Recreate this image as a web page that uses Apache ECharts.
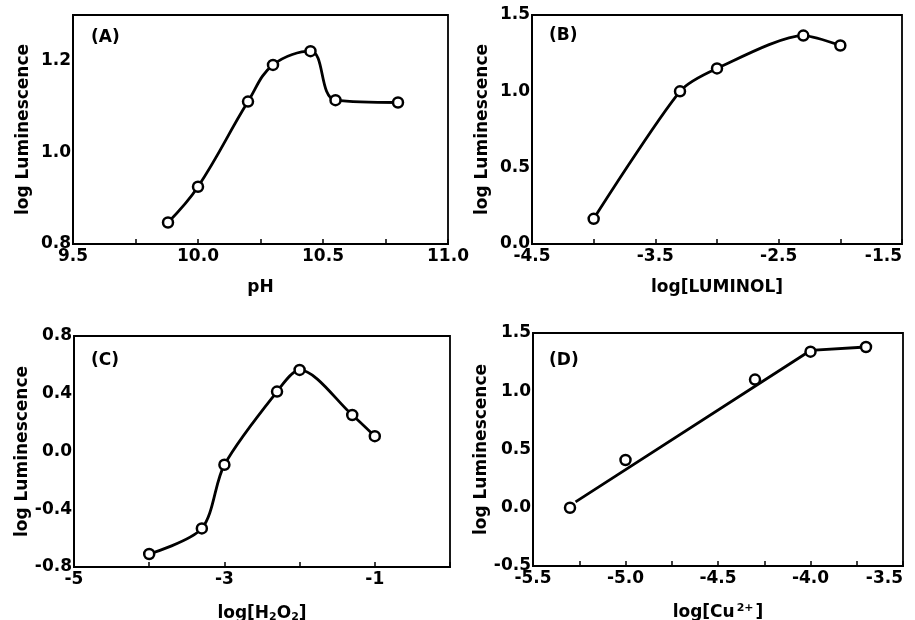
<!DOCTYPE html>
<html>
<head>
<meta charset="utf-8">
<script src="https://cdn.jsdelivr.net/npm/echarts@6/dist/echarts.min.js"></script>
<style>
html,body{margin:0;padding:0;background:#fff;}
#chart{width:915px;height:620px;}
</style>
</head>
<body>
<div id="chart"></div>
<script>
// ---- Data ----
const phX = [9.88, 10.0, 10.2, 10.3, 10.45, 10.55, 10.8];
const phY = [0.847, 0.925, 1.111, 1.191, 1.221, 1.114, 1.109];

const lumX = [-4.0, -3.3, -3.0, -2.3, -2.0];
const lumY = [0.165, 1.0, 1.15, 1.365, 1.30];

const h2o2X = [-4.0, -3.3, -3.0, -2.3, -2.0, -1.3, -1.0];
const h2o2Y = [-0.71, -0.533, -0.092, 0.415, 0.565, 0.253, 0.106];

const cuX = [-5.3, -5.0, -4.3, -4.0, -3.7];
const cuY = [0.0, 0.41, 1.10, 1.34, 1.38];
// drawn (fitted) line in panel D
const cuLineX = [-5.27, -4.0, -3.7];
const cuLineY = [0.05, 1.35, 1.38];

// tick labels
const ticksAx = [9.5, 10.0, 10.5, 11.0];
const ticksAy = [0.8, 1.0, 1.2];
const ticksBx = [-4.5, -3.5, -2.5, -1.5];
const ticksBy = [0.0, 0.5, 1.0, 1.5];
const ticksCx = [-5, -3, -1];
const ticksCy = [-0.8, -0.4, 0.0, 0.4, 0.8];
const ticksDx = [-5.5, -5.0, -4.5, -4.0, -3.5];
const ticksDy = [-0.5, 0.0, 0.5, 1.0, 1.5];

const panelLabels = ['(A)', '(B)', '(C)', '(D)'];
const yName = 'log Luminescence';
const xNames = ['pH', 'log[LUMINOL]', 'log[H{sub|2}O{sub|2}]', 'log[Cu{sup|2+}]'];

// ---- helpers ----
const pairs = (xs, ys) => xs.map((x, i) => [x, ys[i]]);
const FONT = 'DejaVu Sans';
const black = '#000';

function xAxis(idx, min, max, interval, labels, dec, nameGap, alignMax) {
  return {
    type: 'value', gridIndex: idx, min: min, max: max, interval: interval,
    name: xNames[idx], nameLocation: 'middle', nameGap: nameGap,
    nameTextStyle: {
      fontFamily: FONT, fontWeight: 'bold', fontSize: 17, color: black,
      rich: {
        sub: {fontFamily: FONT, fontWeight: 'bold', fontSize: 11, color: black, verticalAlign: 'bottom', padding: [8, 0, 0, 0]},
        sup: {fontFamily: FONT, fontWeight: 'bold', fontSize: 11, color: black, verticalAlign: 'top', padding: [0, 2, 8, 2]}
      }
    },
    axisLine: {show: true, onZero: false, lineStyle: {color: black, width: 2}},
    axisTick: {show: true, inside: true, length: 5, lineStyle: {color: black, width: 1.5}},
    splitLine: {show: false},
    axisLabel: {
      customValues: labels, margin: 4, hideOverlap: false,
      alignMaxLabel: alignMax || null,
      fontFamily: FONT, fontWeight: 'bold', fontSize: 17, color: black,
      formatter: v => Number(v).toFixed(dec)
    }
  };
}
function yAxis(idx, min, max, interval, labels) {
  return {
    type: 'value', gridIndex: idx, min: min, max: max, interval: interval,
    name: yName, nameLocation: 'middle', nameGap: 41,
    nameTextStyle: {fontFamily: FONT, fontWeight: 'bold', fontSize: 17, color: black},
    axisLine: {show: true, onZero: false, lineStyle: {color: black, width: 2}},
    axisTick: {show: false},
    splitLine: {show: false},
    axisLabel: {
      customValues: labels, margin: 2, hideOverlap: false,
      fontFamily: FONT, fontWeight: 'bold', fontSize: 17, color: black,
      formatter: v => Number(v).toFixed(1)
    }
  };
}
function lineSeries(idx, data, smooth, showSymbol) {
  return {
    type: 'line', xAxisIndex: idx, yAxisIndex: idx, data: data,
    smooth: smooth, showSymbol: showSymbol, symbol: 'circle', symbolSize: 10,
    itemStyle: {color: '#fff', borderColor: black, borderWidth: 2.5},
    lineStyle: {color: black, width: 2.8},
    animation: false, silent: true
  };
}

const gridStyle = {show: true, borderColor: black, borderWidth: 1.8, containLabel: false, outerBoundsMode: 'none'};

const option = {
  backgroundColor: '#fff',
  animation: false,
  title: [
    {text: panelLabels[0], left: 91, top: 29},
    {text: panelLabels[1], left: 549, top: 27},
    {text: panelLabels[2], left: 91, top: 352},
    {text: panelLabels[3], left: 549, top: 352}
  ].map(t => Object.assign(t, {padding: 0, textStyle: {fontFamily: FONT, fontWeight: 'bold', fontSize: 17, color: black}})),
  grid: [
    Object.assign({left: 73, top: 15, width: 375, height: 229}, gridStyle),
    Object.assign({left: 532, top: 15, width: 370, height: 229}, gridStyle),
    Object.assign({left: 74, top: 336, width: 376, height: 231}, gridStyle),
    Object.assign({left: 533, top: 333, width: 370, height: 233}, gridStyle)
  ],
  xAxis: [
    xAxis(0, 9.5, 11.0, 0.25, ticksAx, 1, 35),
    xAxis(1, -4.5, -1.5, 0.5, ticksBx, 1, 35, 'right'),
    xAxis(2, -5, 0, 1, ticksCx, 0, 37),
    xAxis(3, -5.5, -3.5, 0.25, ticksDx, 1, 37, 'right')
  ],
  yAxis: [
    yAxis(0, 0.8, 1.3, 0.1, ticksAy),
    yAxis(1, 0.0, 1.5, 0.5, ticksBy),
    yAxis(2, -0.8, 0.8, 0.4, ticksCy),
    yAxis(3, -0.5, 1.5, 0.5, ticksDy)
  ],
  series: [
    lineSeries(0, pairs(phX, phY), 0.4, true),
    lineSeries(1, pairs(lumX, lumY), 0.25, true),
    lineSeries(2, pairs(h2o2X, h2o2Y), 0.3, true),
    lineSeries(3, pairs(cuLineX, cuLineY), false, false),
    {
      type: 'scatter', xAxisIndex: 3, yAxisIndex: 3, data: pairs(cuX, cuY),
      symbol: 'circle', symbolSize: 10, z: 5,
      itemStyle: {color: '#fff', borderColor: black, borderWidth: 2.5, opacity: 1},
      animation: false, silent: true
    }
  ]
};

const chart = echarts.init(document.getElementById('chart'), null, {renderer: 'canvas'});
chart.setOption(option);
</script>
</body>
</html>
